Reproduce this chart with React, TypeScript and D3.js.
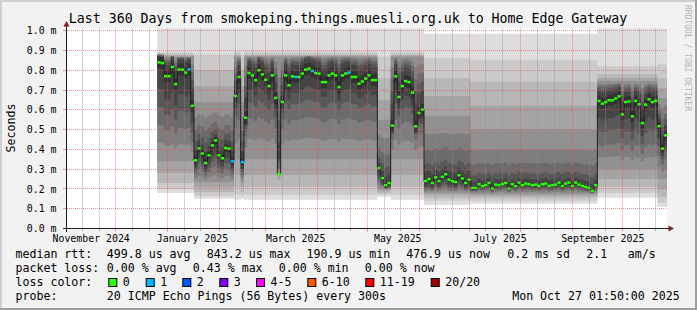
import React from "react";
import * as d3 from "d3";

// ---------- text ----------
const TITLE = "Last 360 Days from smokeping.things.muesli.org.uk to Home Edge Gateway";
const Y_AXIS_TITLE = "Seconds";
const WATERMARK = "RRDTOOL / TOBI OETIKER";

// ---------- axes ----------
const GRAPH_END = "2025-10-27T19:00:00Z";
const GRAPH_SPAN_DAYS = 360;
const Y_MAX = 1.011; // ms
const yTickValues = [0, 0.1, 0.2, 0.3, 0.4, 0.5, 0.6, 0.7, 0.8, 0.9, 1.0];
const yTickLabels = ["0.0 m", "0.1 m", "0.2 m", "0.3 m", "0.4 m", "0.5 m", "0.6 m", "0.7 m", "0.8 m", "0.9 m", "1.0 m"];
const monthLabelTexts = ["November 2024", "January 2025", "March 2025", "May 2025", "July 2025", "September 2025"];
const monthLabelDates = [
  "2024-11-16T07:00:00Z",
  "2025-01-16T02:00:00Z",
  "2025-03-19T00:00:00Z",
  "2025-05-19T06:00:00Z",
  "2025-07-19T14:00:00Z",
  "2025-09-19T06:00:00Z",
];
const minorGridDays = [11, 21];

// ---------- data ----------
const SERIES_START = "2024-12-26T00:00:00Z";
const SERIES_STEP_DAYS = 2;

// median rtt (ms), one value per 2-day step
const medianRtt = [
  0.84, 0.836, 0.77, 0.77, 0.816, 0.73, 0.803, 0.803, 0.788, 0.804,
  0.62, 0.345, 0.405, 0.379, 0.331, 0.37, 0.42, 0.445, 0.37, 0.355,
  0.407, 0.404, 0.34, 0.67, 0.766, 0.336, 0.56, 0.786, 0.774, 0.75,
  0.8, 0.779, 0.752, 0.72, 0.774, 0.66, 0.275, 0.64, 0.774, 0.724,
  0.769, 0.766, 0.766, 0.783, 0.803, 0.808, 0.796, 0.786, 0.783, 0.74,
  0.74, 0.774, 0.783, 0.774, 0.715, 0.774, 0.783, 0.788, 0.766, 0.766,
  0.732, 0.743, 0.758, 0.774, 0.75, 0.75, 0.306, 0.255, 0.219, 0.23,
  0.52, 0.769, 0.665, 0.72, 0.745, 0.74, 0.687, 0.517, 0.584, 0.601,
  0.24, 0.25, 0.23, 0.258, 0.24, 0.261, 0.274, 0.247, 0.239, 0.235,
  0.269, 0.253, 0.23, 0.247, 0.205, 0.205, 0.224, 0.214, 0.219, 0.23,
  0.202, 0.222, 0.219, 0.224, 0.23, 0.202, 0.224, 0.214, 0.232, 0.219,
  0.227, 0.224, 0.219, 0.222, 0.215, 0.224, 0.227, 0.215, 0.219, 0.222,
  0.232, 0.215, 0.227, 0.232, 0.215, 0.232, 0.222, 0.215, 0.21, 0.205,
  0.19, 0.219, 0.645, 0.631, 0.639, 0.648, 0.648, 0.657, 0.668, 0.577,
  0.639, 0.642, 0.567, 0.645, 0.628, 0.533, 0.626, 0.653, 0.639, 0.645,
  0.517, 0.404, 0.471,
];

// lost pings (out of 20) on the days that had loss
const lossCountByDate: Record<string, number> = {
  "2025-01-13": 1,
  "2025-02-08": 1,
  "2025-02-14": 1,
  "2025-03-18": 1,
  "2025-03-28": 1,
  "2025-04-19": 1,
};

// sorted ping profiles (20 pings, ms); null = beyond the top of the graph
const profileA = [0.18, 0.2, 0.23, 0.28, 0.34, 0.42, 0.5, 0.58, 0.66, 0.75, 0.81, 0.835, 0.848, 0.856, 0.862, 0.868, 0.874, 0.88, 0.89, null];
const profileB = [0.15, 0.165, 0.185, 0.21, 0.235, 0.26, 0.285, 0.31, 0.33, 0.355, 0.39, 0.42, 0.46, 0.51, 0.57, 0.64, 0.72, 0.8, 0.88, null];
const profileD = [0.145, 0.17, 0.21, 0.27, 0.35, 0.45, 0.55, 0.63, 0.69, 0.74, 0.8, 0.83, 0.845, 0.855, 0.865, 0.87, 0.875, 0.88, 0.895, null];
const profileE = [0.16, 0.17, 0.18, 0.19, 0.2, 0.205, 0.21, 0.215, 0.22, 0.23, 0.25, 0.28, 0.32, 0.38, 0.46, 0.55, 0.65, 0.76, 0.87, null];
const profileG = [0.12, 0.14, 0.155, 0.17, 0.18, 0.19, 0.2, 0.21, 0.22, 0.235, 0.26, 0.29, 0.33, 0.4, 0.48, 0.57, 0.67, 0.76, 0.86, 0.985];
const profileH = [0.125, 0.14, 0.155, 0.165, 0.175, 0.185, 0.195, 0.2, 0.21, 0.215, 0.23, 0.25, 0.28, 0.33, 0.4, 0.5, 0.62, 0.74, 0.85, 0.985];
const profileI = [0.155, 0.18, 0.21, 0.25, 0.3, 0.36, 0.42, 0.49, 0.55, 0.61, 0.665, 0.69, 0.705, 0.72, 0.73, 0.745, 0.76, 0.78, 0.82, null];
const profileJ = [0.11, 0.13, 0.16, 0.2, 0.25, 0.3, 0.35, 0.39, 0.42, 0.45, 0.49, 0.52, 0.55, 0.58, 0.62, 0.66, 0.71, 0.76, 0.83, null];

const regimeStarts = ["2024-12-26", "2025-01-17", "2025-02-10", "2025-02-14", "2025-02-16", "2025-05-07", "2025-05-15", "2025-06-04", "2025-07-02", "2025-09-16", "2025-10-22"];
const regimeProfiles = [profileA, profileB, profileD, profileB, profileD, profileE, profileD, profileG, profileH, profileI, profileJ];

// ---------- legend ----------
const legendMedian = ["median rtt:", "499.8 us avg", "843.2 us max", "190.9 us min", "476.9 us now", "0.2 ms sd", "2.1", "am/s"];
const legendLoss = ["packet loss:", "0.00 % avg", "0.43 % max", "0.00 % min", "0.00 % now"];
const legendColorTitle = "loss color:";
const lossLabels = ["0", "1", "2", "3", "4-5", "6-10", "11-19", "20/20"];
const lossColors = ["#26ff00", "#00b8ff", "#0059ff", "#7e00ff", "#ff00ff", "#ff5500", "#ff0000", "#a00000"];
const legendProbe = ["probe:", "20 ICMP Echo Pings (56 Bytes) every 300s", "Mon Oct 27 01:50:00 2025"];

// ---------- styles ----------
const smokeShades = ["#dddddd", "#cacaca", "#b7b7b7", "#a4a4a4", "#919191", "#7e7e7e", "#6b6b6b", "#585858", "#454545", "#323232"];
const shiftWeights = [0, 0, 0, 0, 0, 0.2, 0.4, 0.6, 0.8, 1, 1, 0.8, 0.6, 0.4, 0.2, 0, 0, 0, 0, 0];
const FONT = "'DejaVu Sans Mono', monospace";
const GRID = "rgba(143,143,143,0.75)";
const MGRID = "rgba(222,79,79,0.6)";

function lossClass(n: number) {
  if (n <= 0) return 0;
  if (n === 1) return 1;
  if (n === 2) return 2;
  if (n === 3) return 3;
  if (n <= 5) return 4;
  if (n <= 10) return 5;
  if (n <= 19) return 6;
  return 7;
}

export default function App() {
  const end = new Date(GRAPH_END);
  const start = d3.utcDay.offset(end, -GRAPH_SPAN_DAYS);
  const L = 67, R = 667, B = 228.5, T = 28.5;
  const x = d3.scaleUtc().domain([start, end]).range([L, R]);
  const y = d3.scaleLinear().domain([0, Y_MAX]).range([B, T]);
  const fmt = d3.utcFormat("%Y-%m-%d");
  const seriesStart = new Date(SERIES_START);
  const regimeDates = regimeStarts.map((s) => new Date(s + "T00:00:00Z"));

  const steps = medianRtt.map((m, i) => {
    const date = d3.utcDay.offset(seriesStart, i * SERIES_STEP_DAYS);
    let r = 0;
    regimeDates.forEach((d, k) => {
      if (date >= d) r = k;
    });
    const prof = regimeProfiles[r];
    const base = ((prof[9] as number) + (prof[10] as number)) / 2;
    const shift = m - base;
    const vals = prof.map((v, k) => (v == null ? null : v + shift * shiftWeights[k]));
    const finite = (vals.filter((v) => v != null) as number[]).sort((a, b) => a - b);
    const pings: (number | null)[] = [...finite, ...vals.filter((v) => v == null)];
    const loss = lossCountByDate[fmt(date)] || 0;
    return { date, median: m, pings, loss };
  });
  const last = steps[steps.length - 1];
  const ext = [...steps, { ...last, date: d3.utcDay.offset(last.date, SERIES_STEP_DAYS) }];
  const yv = (v: number | null) => (v == null ? T - 5 : y(v));

  const bands = smokeShades.map((c, k) => {
    const area = d3
      .area<any>()
      .x((d) => x(d.date))
      .y0((d) => yv(d.pings[k]))
      .y1((d) => yv(d.pings[19 - k]))
      .curve(d3.curveStepAfter);
    return { c, d: area(ext) || "" };
  });
  const medLine =
    d3
      .line<any>()
      .x((d) => x(d.date))
      .y((d) => y(d.median))
      .curve(d3.curveStepAfter)(ext) || "";

  const majorDates = d3.utcMonth.range(start, end);
  const minorDates: Date[] = [];
  d3.utcMonth.range(d3.utcMonth.floor(start), end).forEach((m) => {
    minorGridDays.forEach((day) => {
      const d = new Date(Date.UTC(m.getUTCFullYear(), m.getUTCMonth(), day));
      if (d > start && d < end) minorDates.push(d);
    });
  });
  const px = (v: number) => Math.floor(v) + 0.5;

  const row1X = [16, 107.3, 207.3, 307, 406.7, 507.7, 586.7, 628.3];
  const row2X = [16, 107.3, 193.3, 279.3, 365.3];
  const boxX = [108.3, 145.7, 182.3, 219.3, 256, 307.3, 365.3, 430.7];
  const row4X = [16, 107.3, 512.7];
  const lf = 11.6;

  return (
    <svg
      width={697}
      height={310}
      style={{ position: "absolute", left: 0, top: 0 }}
      fontFamily={FONT}
    >
      <defs>
        <clipPath id="plotclip">
          <rect x={L} y={T} width={R - L} height={B - T} />
        </clipPath>
      </defs>
      <rect x={0} y={0} width={697} height={310} fill="#f2f2f2" />
      <rect x={0} y={0} width={697} height={2} fill="#cfcfcf" />
      <rect x={0} y={0} width={2} height={310} fill="#cfcfcf" />
      <rect x={695} y={0} width={2} height={310} fill="#9e9e9e" />
      <rect x={0} y={308} width={697} height={2} fill="#9e9e9e" />

      <rect x={L} y={T} width={R - L} height={B - T} fill="#ffffff" />

      <g clipPath="url(#plotclip)">
        {bands.map((b, i) => (
          <path key={i} d={b.d} fill={b.c} />
        ))}
        <path d={medLine} fill="none" stroke="#202020" strokeWidth={1} />
        {steps.map((s, i) => (
          <rect
            key={i}
            x={x(s.date)}
            y={y(s.median) - 1.25}
            width={x(ext[i + 1].date) - x(s.date)}
            height={2.5}
            fill={lossColors[lossClass(s.loss)]}
          />
        ))}
      </g>

      {/* grid */}
      <g strokeDasharray="1,1" strokeWidth={1}>
        {minorDates.map((d, i) => (
          <line key={"mi" + i} x1={px(x(d))} x2={px(x(d))} y1={T} y2={B} stroke={GRID} />
        ))}
        {majorDates.map((d, i) => (
          <line key={"ma" + i} x1={px(x(d))} x2={px(x(d))} y1={T} y2={B} stroke={MGRID} />
        ))}
        {yTickValues.slice(1).map((v, i) => (
          <line key={"h" + i} x1={L} x2={R} y1={px(y(v))} y2={px(y(v))} stroke={MGRID} />
        ))}
      </g>
      {/* ticks */}
      {minorDates.map((d, i) => (
        <line key={"tmi" + i} x1={px(x(d))} x2={px(x(d))} y1={229} y2={231} stroke={GRID} />
      ))}
      {majorDates.map((d, i) => (
        <line key={"tma" + i} x1={px(x(d))} x2={px(x(d))} y1={229} y2={231.5} stroke={MGRID} />
      ))}
      {yTickValues.slice(1).map((v, i) => (
        <line key={"ty" + i} x1={63} x2={66} y1={px(y(v))} y2={px(y(v))} stroke={MGRID} />
      ))}

      {/* axes */}
      <line x1={66.5} x2={66.5} y1={232} y2={25} stroke="#1f1f1f" strokeWidth={1} />
      <polygon points="63.5,26.5 69.5,26.5 66.5,21" fill="#801f1f" />
      <line x1={63} x2={669} y1={228.5} y2={228.5} stroke="#1f1f1f" strokeWidth={1} />
      <polygon points="668.5,225.5 668.5,231.5 674,228.5" fill="#801f1f" />

      {/* y labels */}
      {yTickValues.map((v, i) => (
        <text key={"yl" + i} x={56.5} y={y(v) + 3.6} fontSize={9.9} textAnchor="end" fill="#000">
          {yTickLabels[i]}
        </text>
      ))}
      {/* x labels */}
      {monthLabelTexts.map((t, i) => (
        <text key={"xl" + i} x={x(new Date(monthLabelDates[i]))} y={241.5} fontSize={9.9} textAnchor="middle" fill="#000">
          {t}
        </text>
      ))}

      {/* titles */}
      <text x={348} y={23.3} fontSize={13.25} textAnchor="middle" fill="#000">
        {TITLE}
      </text>
      <text transform="translate(14.5,128) rotate(-90)" fontSize={11.6} textAnchor="middle" fill="#000">
        {Y_AXIS_TITLE}
      </text>
      <text transform="translate(684.5,5) rotate(90)" fontSize={8} fill="#b4b4b4">
        {WATERMARK}
      </text>

      {/* legend */}
      <g fontSize={lf} fill="#000">
        {legendMedian.map((t, i) => (
          <text key={"r1" + i} x={row1X[i] - 0.5} y={258} xmlSpace="preserve">
            {t}
          </text>
        ))}
        {legendLoss.map((t, i) => (
          <text key={"r2" + i} x={row2X[i] - 0.5} y={272} xmlSpace="preserve">
            {t}
          </text>
        ))}
        <text x={15.5} y={286}>
          {legendColorTitle}
        </text>
        {lossLabels.map((t, i) => (
          <g key={"r3" + i}>
            <rect x={boxX[i] + 0.5} y={278.5} width={8} height={8} fill={lossColors[i]} stroke="#000" strokeWidth={1} />
            <text x={boxX[i] + 14.5} y={286}>
              {t}
            </text>
          </g>
        ))}
        {legendProbe.map((t, i) => (
          <text key={"r4" + i} x={row4X[i] - 0.5} y={300} xmlSpace="preserve">
            {t}
          </text>
        ))}
      </g>
    </svg>
  );
}
